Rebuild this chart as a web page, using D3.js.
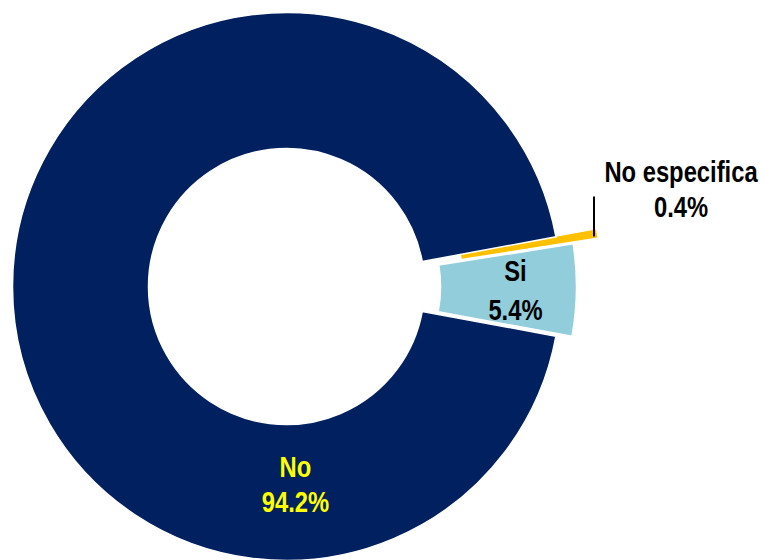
<!DOCTYPE html>
<html>
<head>
<meta charset="utf-8">
<script src="https://cdn.jsdelivr.net/npm/d3@7"></script>
<style>
  html, body { margin: 0; padding: 0; background: #ffffff; }
  svg { display: block; }
  text { font-family: "Liberation Sans", Arial, sans-serif; font-weight: bold; }
</style>
</head>
<body>
<svg id="chart" width="764" height="560"></svg>
<script>
// Data
const categories = ["No especifica", "Si", "No"];
const values = [0.4, 5.4, 94.2];
const valueLabels = ["0.4%", "5.4%", "94.2%"];
const colors = ["#FFC000", "#92CDDC", "#002060"];
const labelColors = ["#000000", "#000000", "#FFFF00"];
const explode = [40, 16, 0];

const W = 764, H = 560;
const cx = 286.5, cy = 286.5;
const rOuter = 274, rInner = 138;

const svg = d3.select("#chart");
const g = svg.append("g").attr("transform", `translate(${cx},${cy})`);

const total = d3.sum(values);
const gapAngle = (values[0] + values[1]) / total * 2 * Math.PI;
const start = Math.PI / 2 - gapAngle / 2;

const pie = d3.pie().sort(null).value(d => d.v)
  .startAngle(start).endAngle(start + 2 * Math.PI);
const data = categories.map((c, i) => ({ c, v: values[i], i }));
const arcs = pie(data);

const arc = d3.arc().innerRadius(rInner).outerRadius(rOuter);

function offset(d) {
  const a = (d.startAngle + d.endAngle) / 2;
  const e = explode[d.data.i];
  return [e * Math.sin(a), -e * Math.cos(a)];
}

g.selectAll("path.slice").data(arcs).enter().append("path")
  .attr("class", "slice")
  .attr("d", arc)
  .attr("transform", d => { const o = offset(d); return `translate(${o[0]},${o[1]})`; })
  .attr("fill", d => colors[d.data.i])
  .attr("stroke", d => d.data.i === 0 ? colors[0] : "#ffffff")
  .attr("stroke-width", d => d.data.i === 0 ? 1.2 : 1.5);

const fs = 29, sx = 0.82;

// two-line condensed label centered at x, with baselines y1, y2
function label(x, y1, y2, lines, color) {
  const t = g.append("g").attr("transform", `translate(${x},0) scale(${sx},1)`)
    .append("text").attr("text-anchor", "middle").attr("fill", color).attr("font-size", fs);
  t.append("tspan").attr("x", 0).attr("y", y1).text(lines[0]);
  t.append("tspan").attr("x", 0).attr("y", y2).text(lines[1]);
}

// Si label: at centroid of exploded slice
const siArc = arcs[1];
const siC = arc.centroid(siArc);
const siO = offset(siArc);
const siX = siC[0] + siO[0] + 7, siY = siC[1] + siO[1];
label(siX, siY - 8, siY + 31, [categories[1], valueLabels[1]], labelColors[1]);

// No label: placed inside the ring near the bottom
const noAng = 177.4 * Math.PI / 180, noR = 197;
const noX = noR * Math.sin(noAng), noY = -noR * Math.cos(noAng);
label(noX, noY - 6, noY + 29, [categories[2], valueLabels[2]], labelColors[2]);

// No especifica: outside label with leader line
const neArc = arcs[0];
const neA = (neArc.startAngle + neArc.endAngle) / 2;
const neO = offset(neArc);
const px = rOuter * Math.sin(neA) + neO[0] - 2;
const py = -rOuter * Math.cos(neA) + neO[1] + 3;
g.append("line")
  .attr("x1", px).attr("y1", py)
  .attr("x2", px).attr("y2", py - 40)
  .attr("stroke", "#000000").attr("stroke-width", 2);
label(681 - cx, 182 - cy, 217 - cy, [categories[0], valueLabels[0]], labelColors[0]);
</script>
</body>
</html>
